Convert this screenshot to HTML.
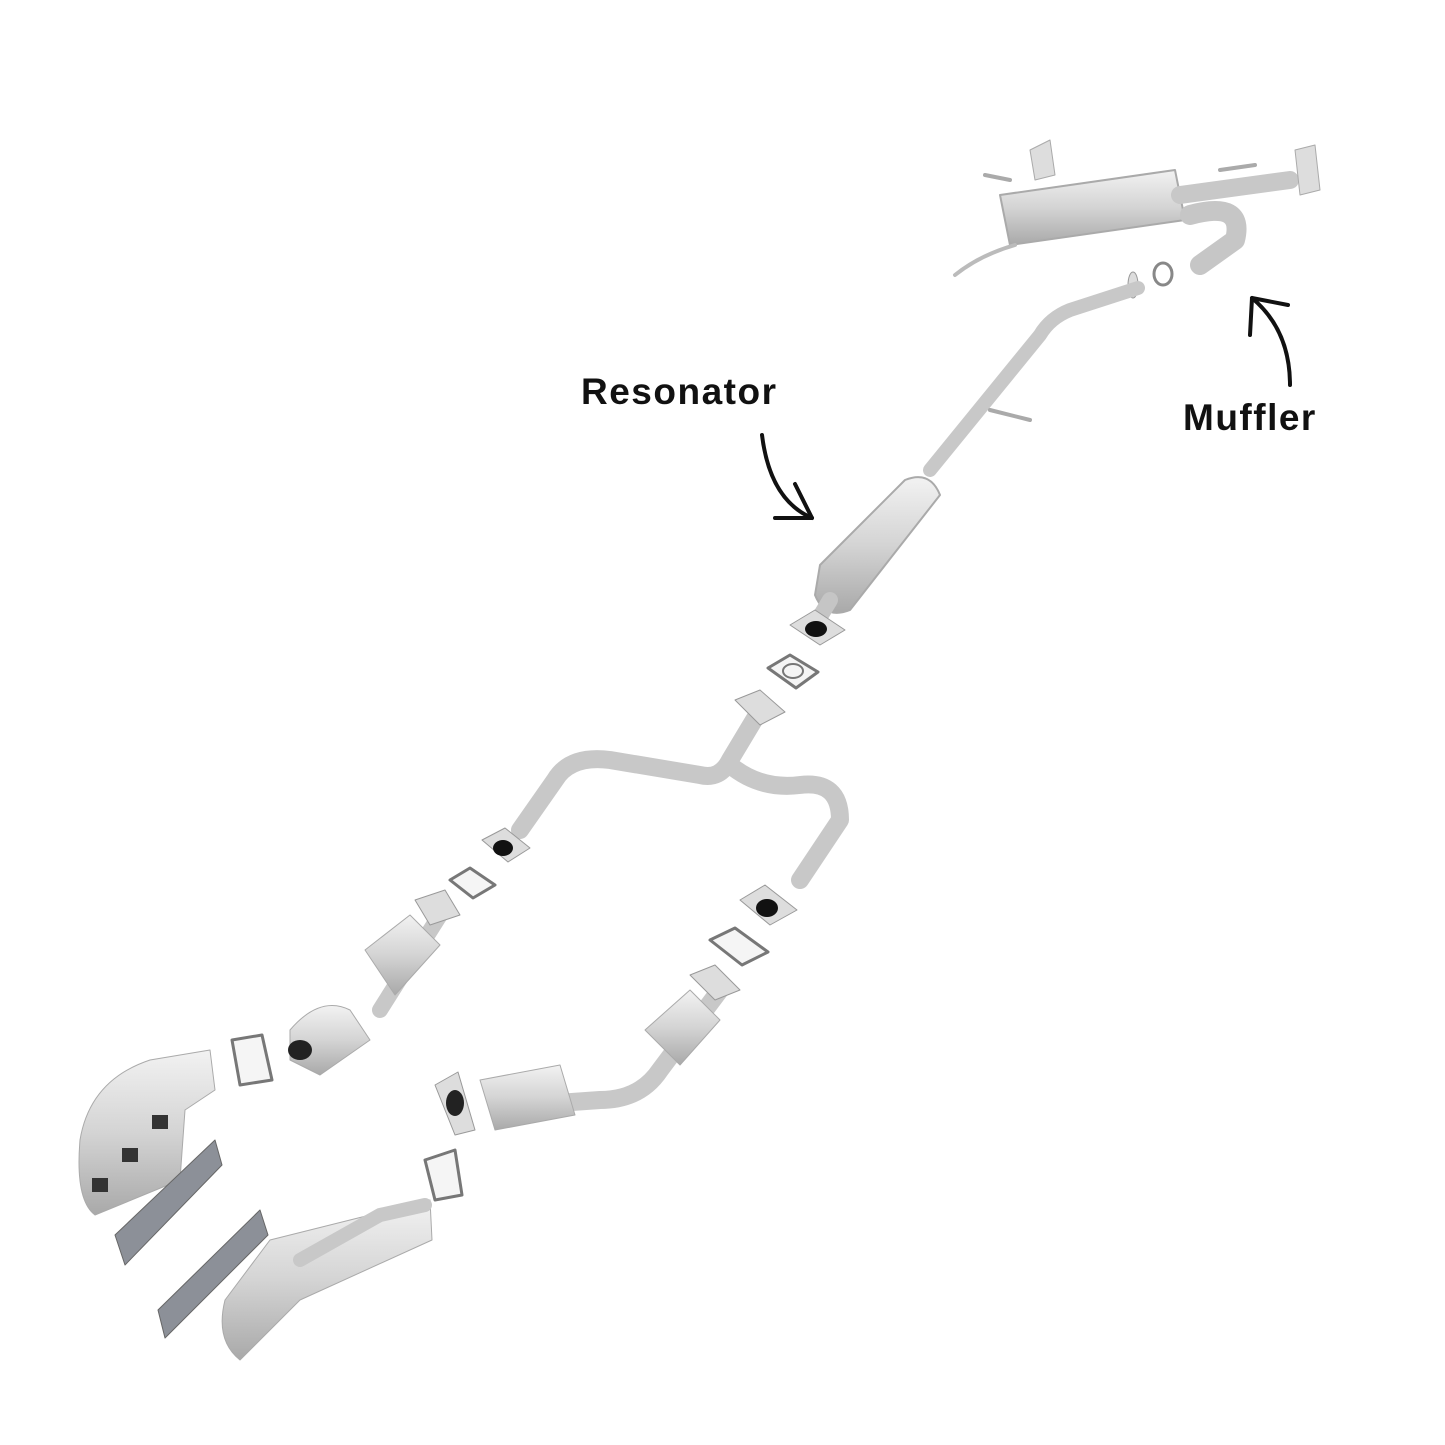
<!DOCTYPE html>
<html><head><meta charset="utf-8"><style>
html,body{margin:0;padding:0;background:#fff;}
.wrap{position:relative;width:1445px;height:1445px;overflow:hidden;}
.lbl{position:absolute;font-family:"Liberation Sans",sans-serif;font-size:37px;color:#111;font-weight:bold;letter-spacing:1.5px;}
</style></head><body><div class="wrap">
<svg width="1445" height="1445" viewBox="0 0 1445 1445" xmlns="http://www.w3.org/2000/svg">
<defs>
<linearGradient id="m" x1="0" y1="0" x2="0" y2="1"><stop offset="0" stop-color="#f2f2f2"/><stop offset=".5" stop-color="#d4d4d4"/><stop offset="1" stop-color="#a9a9a9"/></linearGradient>
</defs>
<g fill="none" stroke-linecap="round" stroke-linejoin="round">
<path d="M1000 195 L1175 170 L1185 220 L1010 245 Z" fill="url(#m)" stroke="#aaa" stroke-width="2"/>
<path d="M1180 195 L1290 180" stroke="#c8c8c8" stroke-width="18"/>
<path d="M1295 150 L1315 145 L1320 190 L1300 195 Z" fill="#ddd" stroke="#aaa"/>
<path d="M1030 150 L1050 140 L1055 175 L1035 180 Z" fill="#ddd" stroke="#aaa"/>
<path d="M1190 215 Q1245 200 1235 240 L1200 265" stroke="#c6c6c6" stroke-width="20"/>
<path d="M1015 245 Q980 255 955 275" stroke="#bbb" stroke-width="4"/>
<path d="M985 175 L1010 180 M1220 170 L1255 165" stroke="#aaa" stroke-width="4"/>
<ellipse cx="1163" cy="274" rx="9" ry="11" stroke="#888" stroke-width="3"/>
<ellipse cx="1133" cy="285" rx="5" ry="13" fill="#ddd" stroke="#999"/>
<path d="M1138 288 L1070 310 Q1050 318 1040 335 L930 470" stroke="#c8c8c8" stroke-width="14"/>
<path d="M990 410 L1030 420" stroke="#aaa" stroke-width="4"/>
<path d="M820 565 L905 480 Q930 470 940 495 L850 610 Q825 620 815 595 Z" fill="url(#m)" stroke="#aaa" stroke-width="2"/>
<path d="M830 600 L815 625" stroke="#c5c5c5" stroke-width="16"/>
<path d="M790 625 L815 610 L845 630 L820 645 Z" fill="#ddd" stroke="#999"/>
<ellipse cx="816" cy="629" rx="11" ry="8" fill="#111"/>
<path d="M768 668 L790 655 L818 672 L796 688 Z" stroke="#777" stroke-width="3" fill="#f5f5f5"/>
<ellipse cx="793" cy="671" rx="10" ry="7" stroke="#777" stroke-width="2"/>
<path d="M760 710 L730 760 Q720 780 700 775 L610 760 Q570 755 555 780 L520 830" stroke="#c8c8c8" stroke-width="18"/>
<path d="M730 765 Q760 790 800 785 Q840 780 840 820 L800 880" stroke="#c8c8c8" stroke-width="18"/>
<path d="M735 700 L760 690 L785 712 L760 725 Z" fill="#ddd" stroke="#999"/>
<path d="M482 840 L505 828 L530 848 L508 862 Z" fill="#ddd" stroke="#999"/>
<ellipse cx="503" cy="848" rx="10" ry="8" fill="#111"/>
<path d="M740 900 L765 885 L797 910 L770 925 Z" fill="#ddd" stroke="#999"/>
<ellipse cx="767" cy="908" rx="11" ry="9" fill="#111"/>
<path d="M450 880 L470 868 L495 885 L473 898 Z" stroke="#777" stroke-width="3" fill="#f5f5f5"/>
<path d="M710 940 L735 928 L768 952 L742 965 Z" stroke="#777" stroke-width="3" fill="#f5f5f5"/>
<path d="M440 915 L380 1010" stroke="#c8c8c8" stroke-width="16"/>
<path d="M365 950 L410 915 L440 945 L395 995 Z" fill="url(#m)" stroke="#aaa"/>
<path d="M415 900 L445 890 L460 915 L430 925 Z" fill="#ddd" stroke="#999"/>
<path d="M290 1030 Q320 995 350 1010 L370 1040 L320 1075 L290 1060 Z" fill="url(#m)" stroke="#aaa"/>
<ellipse cx="300" cy="1050" rx="12" ry="10" fill="#222"/>
<path d="M232 1040 L262 1035 L272 1080 L240 1085 Z" stroke="#777" stroke-width="3" fill="#f5f5f5"/>
<path d="M720 990 L660 1070 Q640 1100 600 1100 L530 1105" stroke="#c8c8c8" stroke-width="18"/>
<path d="M645 1030 L690 990 L720 1020 L680 1065 Z" fill="url(#m)" stroke="#aaa"/>
<path d="M690 975 L715 965 L740 990 L715 1000 Z" fill="#ddd" stroke="#999"/>
<path d="M480 1080 L560 1065 L575 1115 L495 1130 Z" fill="url(#m)" stroke="#aaa"/>
<path d="M435 1085 L458 1072 L475 1130 L455 1135 Z" fill="#ddd" stroke="#999"/>
<ellipse cx="455" cy="1103" rx="9" ry="13" fill="#222"/>
<path d="M425 1160 L455 1150 L462 1195 L435 1200 Z" stroke="#777" stroke-width="3" fill="#f5f5f5"/>
<path d="M80 1140 Q90 1080 150 1060 L210 1050 L215 1090 L185 1110 L180 1180 L95 1215 Q75 1200 80 1140 Z" fill="url(#m)" stroke="#aaa"/>
<rect x="92" y="1178" width="16" height="14" fill="#333"/><rect x="122" y="1148" width="16" height="14" fill="#333"/><rect x="152" y="1115" width="16" height="14" fill="#333"/>
<path d="M115 1235 L215 1140 L222 1165 L125 1265 Z" fill="#8c9098" stroke="#666"/>
<path d="M158 1310 L260 1210 L268 1235 L165 1338 Z" fill="#8c9098" stroke="#666"/>
<path d="M225 1300 L270 1240 L330 1225 L370 1215 L430 1200 L432 1240 L300 1300 L240 1360 Q215 1340 225 1300 Z" fill="url(#m)" stroke="#aaa"/>
<path d="M300 1260 L380 1215 L425 1205" stroke="#c8c8c8" stroke-width="14"/>
<path d="M762 435 Q770 500 812 518" stroke="#111" stroke-width="4"/>
<path d="M775 518 L812 518 L795 484" stroke="#111" stroke-width="4"/>
<path d="M1290 385 Q1290 330 1252 298" stroke="#111" stroke-width="4"/>
<path d="M1250 335 L1252 298 L1288 305" stroke="#111" stroke-width="4"/>
</g>
</svg>
<div class="lbl" style="left:581px;top:371px;">Resonator</div>
<div class="lbl" style="left:1183px;top:397px;">Muffler</div>
</div></body></html>
